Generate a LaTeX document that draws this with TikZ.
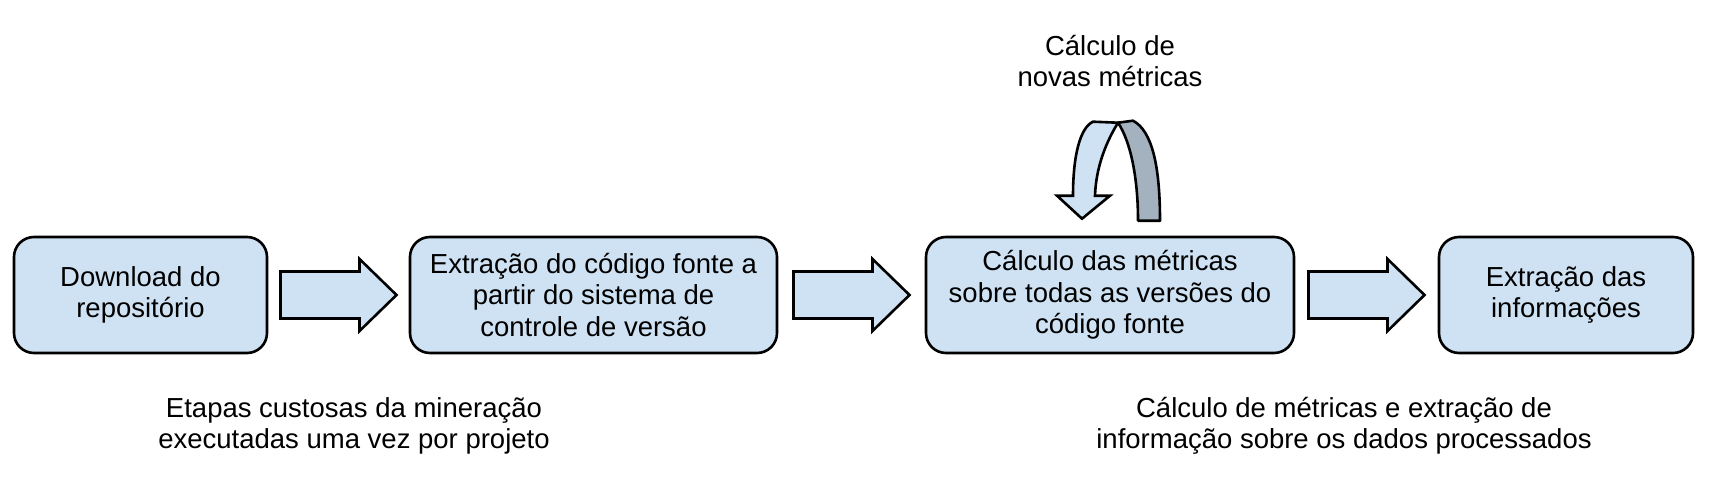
\documentclass[tikz,border=0pt]{standalone}
\usepackage{fontspec}
\setmainfont{Liberation Sans}
\usetikzlibrary{positioning,calc}
\definecolor{boxblue}{HTML}{CFE2F3}
\definecolor{backgrey}{HTML}{A4B2C0}
\newcommand{\blockarrow}[2]{%
  \coordinate (m) at ($(#1.east)!0.5!(#2.west)$);
  \draw[barrow] ($(m)+(-58,-23.5)$) -- ($(m)+(21,-23.5)$) -- ($(m)+(21,-36)$)
    -- ($(m)+(58,0)$) -- ($(m)+(21,36)$) -- ($(m)+(21,23.5)$)
    -- ($(m)+(-58,23.5)$) -- cycle;}
\begin{document}
\begin{tikzpicture}[x=0.5pt, y=-0.5pt,
    every node/.style={font=\fontsize{13.75}{15.7}\selectfont, align=center},
    l/.style={draw, line width=1.3pt, fill=boxblue, rounded corners=10pt, minimum height=58pt},
    barrow/.style={draw, line width=1.3pt, fill=boxblue, line join=miter},
    note/.style={inner sep=0pt}]
  \useasboundingbox (0,0) rectangle (1724,482);
  \node[l, minimum width=126.5pt] (d) at (140.5,295) {Download do\\repositório};
  \node[l, minimum width=183.5pt] (e) at (593.5,295) {Extração do código fonte a\\partir do sistema de\\controle de versão};
  \node[l, minimum width=184pt] (c) at (1110,295) {Cálculo das métricas\\sobre todas as versões do\\código fonte};
  \node[l, minimum width=127pt] (i) at (1566,295) {Extração das\\informações};
  \blockarrow{d}{e}
  \blockarrow{e}{c}
  \blockarrow{c}{i}
  % self loop over the metrics box
  \begin{scope}[shift={(c.north)}, line width=1.3pt, line join=round]
    \draw[fill=backgrey] (8,-113) -- (23,-115) .. controls (42,-105) and (50,-70) .. (50,-15)
      -- (28,-15) .. controls (28,-60) and (20,-95) .. (8,-113) -- cycle;
    \draw[fill=boxblue, line join=miter] (8,-113) .. controls (-3,-95) and (-14,-70) .. (-15,-40)
      -- (0,-40) -- (-28,-17) -- (-53,-40) -- (-37,-40)
      .. controls (-37,-80) and (-30,-108) .. (-17,-114) -- cycle;
  \end{scope}
  \node[note] (n) at (1110,61) {Cálculo de\\novas métricas};
  \node[note] (a) at (354,426) {Etapas custosas da mineração\\executadas uma vez por projeto};
  \node[note] (b) at (1344,426) {Cálculo de métricas e extração de\\informação sobre os dados processados};
\end{tikzpicture}
\end{document}
